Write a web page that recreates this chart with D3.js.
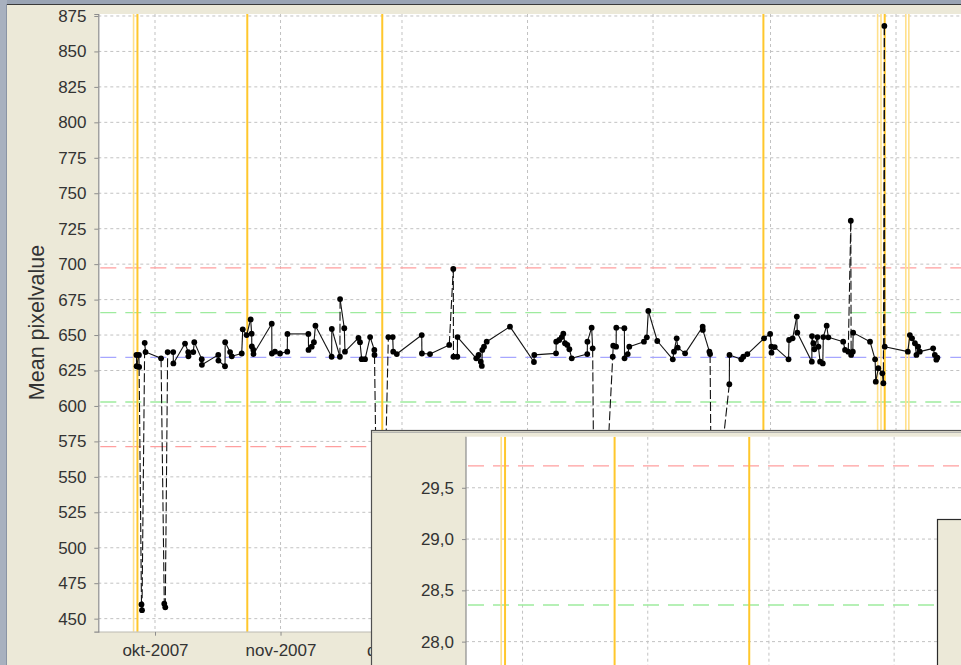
<!DOCTYPE html>
<html>
<head>
<meta charset="utf-8">
<script src="https://cdn.jsdelivr.net/npm/d3@7"></script>
<style>
  html, body { margin: 0; padding: 0; background: #ECE9D8; overflow: hidden; }
  svg { display: block; }
  text { font-family: "Liberation Sans", Arial, sans-serif; }
</style>
</head>
<body>
<svg id="chart" width="961" height="665"></svg>
<script>
// ---- data ---------------------------------------------------------------
// acquisition time of each QC image and its mean pixel value
const sampleTimes = [
  "2007-09-26 10:00","2007-09-26 11:00","2007-09-27 01:00","2007-09-27 02:00","2007-09-27 16:00",
  "2007-09-27 19:00","2007-09-28 11:00","2007-09-28 16:00","2007-10-02 12:00","2007-10-03 07:00",
  "2007-10-03 13:00","2007-10-04 03:00","2007-10-05 12:00","2007-10-05 13:00","2007-10-08 10:00",
  "2007-10-09 05:00","2007-10-09 06:00","2007-10-10 11:00","2007-10-10 17:00","2007-10-12 13:00",
  "2007-10-12 14:00","2007-10-16 15:00","2007-10-16 16:00","2007-10-18 07:00","2007-10-18 08:00",
  "2007-10-19 13:00","2007-10-19 23:00","2007-10-22 10:00","2007-10-22 16:00","2007-10-23 15:00",
  "2007-10-24 15:00","2007-10-24 21:00","2007-10-24 22:00","2007-10-25 07:00","2007-10-25 08:00",
  "2007-10-29 20:00","2007-10-29 21:00","2007-10-30 15:00","2007-10-31 21:00","2007-11-02 16:00",
  "2007-11-02 17:00","2007-11-07 21:00","2007-11-07 22:00","2007-11-08 17:00","2007-11-09 06:00",
  "2007-11-09 15:00","2007-11-13 15:00","2007-11-13 16:00","2007-11-15 16:00","2007-11-15 17:00",
  "2007-11-16 18:00","2007-11-16 22:00","2007-11-20 06:00","2007-11-20 15:00","2007-11-21 01:00",
  "2007-11-21 21:00","2007-11-23 03:00","2007-11-24 04:00","2007-11-24 05:00","2007-11-24 20:00",
  "2007-11-26 13:00","2007-11-27 15:00","2007-11-28 17:00","2007-11-28 20:00","2007-11-29 17:00",
  "2007-12-05 21:00","2007-12-05 22:00","2007-12-07 22:00","2007-12-12 16:00","2007-12-13 16:00",
  "2007-12-13 17:00","2007-12-14 16:00","2007-12-14 17:00","2007-12-19 08:00","2007-12-19 22:00",
  "2007-12-20 11:00","2007-12-20 17:00","2007-12-20 20:00","2007-12-21 06:00","2007-12-21 22:00",
  "2007-12-27 16:00","2008-01-02 14:00","2008-01-02 16:00","2008-01-08 01:00","2008-01-08 02:00",
  "2008-01-08 20:00","2008-01-09 11:00","2008-01-09 20:00","2008-01-10 06:00","2008-01-10 20:00",
  "2008-01-11 08:00","2008-01-11 22:00","2008-01-15 18:00","2008-01-15 19:00","2008-01-16 20:00",
  "2008-01-17 02:00","2008-01-17 13:00","2008-01-19 07:00","2008-01-22 01:00","2008-01-22 04:00",
  "2008-01-22 21:00","2008-01-22 22:00","2008-01-24 22:00","2008-01-24 23:00","2008-01-25 18:00",
  "2008-01-26 03:00","2008-01-29 18:00","2008-01-30 11:00","2008-01-30 20:00","2008-02-02 01:00",
  "2008-02-05 21:00","2008-02-06 04:00","2008-02-06 20:00","2008-02-07 02:00","2008-02-08 22:00",
  "2008-02-13 06:00","2008-02-13 07:00","2008-02-14 22:00","2008-02-15 02:00","2008-02-15 11:00",
  "2008-02-19 20:00","2008-02-19 21:00","2008-02-22 19:00","2008-02-23 07:00","2008-02-24 07:00",
  "2008-02-28 10:00","2008-02-29 22:00","2008-03-01 05:00","2008-03-01 06:00","2008-03-02 01:00",
  "2008-03-05 11:00","2008-03-05 14:00","2008-03-06 11:00","2008-03-07 12:00","2008-03-07 15:00",
  "2008-03-11 05:00","2008-03-11 06:00","2008-03-11 14:00","2008-03-11 20:00","2008-03-12 14:00",
  "2008-03-12 20:00","2008-03-13 06:00","2008-03-13 22:00","2008-03-14 01:00","2008-03-14 21:00",
  "2008-03-15 07:00","2008-03-18 23:00","2008-03-19 10:00","2008-03-20 05:00","2008-03-20 20:00",
  "2008-03-20 22:00","2008-03-21 08:00","2008-03-21 10:00","2008-03-25 14:00","2008-03-26 20:00",
  "2008-03-27 00:00","2008-03-27 15:00","2008-03-28 15:00","2008-03-28 21:00","2008-03-29 03:00",
  "2008-03-29 05:00","2008-04-03 22:00","2008-04-04 10:00","2008-04-04 23:00","2008-04-05 16:00",
  "2008-04-06 01:00","2008-04-06 11:00","2008-04-06 21:00","2008-04-10 04:00","2008-04-10 14:00",
  "2008-04-10 23:00","2008-04-11 05:00"
];
const meanValues = [
  636, 628, 636, 627.5, 460,
  456, 644.5, 638, 633.6, 460.5,
  458, 638, 638, 630, 644,
  638, 635, 638, 645, 633,
  629, 636, 632, 628, 645,
  638, 635, 637, 654, 650,
  661, 651, 642, 639.5, 636.6,
  658, 637, 638.3, 637, 638.3,
  650.8, 650.8, 639.5, 641.8, 645,
  656.6, 634.7, 654.3, 634.7, 675.4,
  654.8, 638.3, 648, 645, 633,
  633, 648.6, 639.5, 636, 505,
  510, 648.6, 648.6, 638.3, 636.6,
  650, 637, 636.6, 643, 696.6,
  634.7, 634.7, 648.6, 633.6, 636,
  631.2, 628.2, 639.5, 641.8, 645.3,
  655.9, 631, 636, 637.1, 645.3,
  646.5, 648.6, 651, 644.2, 643,
  640, 633.6, 636.6, 645.3, 655.2,
  640.6, 480, 480, 634.7, 642.5,
  641.8, 655.2, 654.8, 633.6, 636.6,
  641.8, 645.3, 648.4, 667, 645.8,
  632.9, 638.3, 647.7, 641.1, 637.1,
  655.9, 653.6, 638.3, 636.6, 500,
  615.3, 636, 632.9, 634.7, 636.6,
  647.7, 650.8, 641.8, 637.6, 641.5,
  632.9, 646.5, 647.7, 663, 651.7,
  631.2, 649.3, 644.2, 640, 648.6,
  641.8, 631.2, 630, 648.6, 656.6,
  648.4, 645.3, 639.5, 638.3, 730.6,
  636, 638.3, 651.7, 645.3, 632.9,
  617.1, 626.6, 623, 616, 868,
  641.8, 638.3, 650, 647.7, 644.2,
  636, 641.8, 638.3, 640.6, 636,
  632.6, 634
];

// service / calibration events
const majorEvents = ["2007-09-26 16:00","2007-10-23 19:00","2007-11-26 03:00","2008-02-28 06:00","2008-03-29 05:00"];
const minorEvents = ["2007-09-25 17:00","2008-03-27 11:00","2008-03-28 07:00","2008-04-03 10:00","2008-04-04 04:00"];

// control limits (mean, standard deviation)
const mainMean = 634.3, mainSd = 31.5;
const snrMean = 27.0, snrSd = 1.357;

// axis ticks
const mainYTicks = [450,475,500,525,550,575,600,625,650,675,700,725,750,775,800,825,850,875];
const snrYTicks = [28.0, 28.5, 29.0, 29.5];
const monthNames = ["jan","feb","mar","apr","mai","jun","jul","aug","sep","okt","nov","des"];
const timeSpan = ["2007-09-17 00:00","2008-04-27 00:00"];

// ---- setup --------------------------------------------------------------
const parse = d3.utcParse("%Y-%m-%d %H:%M");
const nb = d3.timeFormatLocale({
  dateTime: "%A %e. %B %Y kl. %X", date: "%d.%m.%Y", time: "%H:%M:%S",
  periods: ["AM","PM"],
  days: ["søndag","mandag","tirsdag","onsdag","torsdag","fredag","lørdag"],
  shortDays: ["søn","man","tir","ons","tor","fre","lør"],
  months: ["januar","februar","mars","april","mai","juni","juli","august","september","oktober","november","desember"],
  shortMonths: monthNames
});
const monthFmt = nb.utcFormat("%b-%Y");
const commaFmt = d3.formatLocale({decimal: ",", thousands: " ", grouping: [3], currency: ["", " kr"]}).format(".1f");

const series = sampleTimes.map((t, i) => ({t: parse(t), v: meanValues[i]}));
const events = majorEvents.map(t => ({t: parse(t), major: true}))
  .concat(minorEvents.map(t => ({t: parse(t), major: false})));
const span = timeSpan.map(parse);

const svg = d3.select("#chart");
const BEIGE = "#ECE9D8";
const GRID = "#C2C2C2";
const FONT = "17px";

svg.append("rect").attr("width", 961).attr("height", 665).attr("fill", BEIGE);

// window frame
svg.append("rect").attr("x", 0).attr("y", 0).attr("width", 961).attr("height", 4).attr("fill", "#9AA4B4");
svg.append("line").attr("x1", 7).attr("x2", 961).attr("y1", 4.5).attr("y2", 4.5).attr("stroke", "#3a3a3a").attr("stroke-width", 1);
svg.append("rect").attr("x", 0).attr("y", 0).attr("width", 7).attr("height", 665).attr("fill", "#A8B1BF");
svg.append("line").attr("x1", 6.5).attr("x2", 6.5).attr("y1", 4).attr("y2", 665).attr("stroke", "#8A94A4");

// draws one time-series panel: plot area, grid, control limits, events
function panel(g, opt) {
  const {x, y, left, top, right, bottom, mean, sd, clipId} = opt;
  g.append("clipPath").attr("id", clipId)
    .append("rect").attr("x", left).attr("y", top).attr("width", right - left).attr("height", bottom - top);
  g.append("rect").attr("x", left).attr("y", top).attr("width", right - left).attr("height", bottom - top).attr("fill", "#fff");
  const pg = g.append("g").attr("clip-path", `url(#${clipId})`);

  // grid
  pg.selectAll(null).data(opt.yTicks).join("line")
    .attr("x1", left).attr("x2", right).attr("y1", d => y(d)).attr("y2", d => y(d))
    .attr("stroke", GRID).attr("stroke-dasharray", "3,3");
  pg.selectAll(null).data(x.ticks(d3.utcMonth.every(1))).join("line")
    .attr("x1", d => x(d)).attr("x2", d => x(d)).attr("y1", top).attr("y2", bottom)
    .attr("stroke", GRID).attr("stroke-dasharray", "3,3");

  // control limits
  const limits = [
    {v: mean + 2 * sd, c: "#FF9E9E"}, {v: mean + sd, c: "#9EEB9E"}, {v: mean, c: "#A6A6FF"},
    {v: mean - sd, c: "#9EEB9E"}, {v: mean - 2 * sd, c: "#FF9E9E"}
  ];
  pg.selectAll(null).data(limits).join("line")
    .attr("x1", left).attr("x2", right).attr("y1", d => y(d.v)).attr("y2", d => y(d.v))
    .attr("stroke", d => d.c).attr("stroke-width", 1.3).attr("stroke-dasharray", "16,9")
    .attr("stroke-dashoffset", -2);

  // events
  pg.selectAll(null).data(events).join("line")
    .attr("x1", d => x(d.t)).attr("x2", d => x(d.t)).attr("y1", top).attr("y2", bottom)
    .attr("stroke", d => d.major ? "#FFC72C" : "#FFE08C")
    .attr("stroke-width", d => d.major ? 2 : 1.6);
  return pg;
}

// ---- main chart ---------------------------------------------------------
const M = {left: 98.3, top: 14, right: 1001.3, bottom: 631.7};
const x = d3.scaleUtc().domain(span).range([M.left, M.right]);
const y = d3.scaleLinear().domain([440.8, 876.4]).range([M.bottom, M.top]);
const W = {x: 371.5, y: 430.5};   // top-left corner of the SNR window lying over this one

const main = svg.append("g");
const mp = panel(main, {x, y, ...M, mean: mainMean, sd: mainSd, clipId: "clipMain", yTicks: mainYTicks});

// series line: long jumps rendered dashed
const pts = series.map(d => [x(d.t), y(d.v)]);
mp.selectAll(null).data(d3.pairs(pts)).join("line")
  .attr("x1", d => d[0][0]).attr("y1", d => d[0][1])
  .attr("x2", d => d[1][0]).attr("y2", d => d[1][1])
  .attr("stroke", "#111").attr("stroke-width", 1.1)
  .attr("stroke-dasharray", d => Math.abs(d[1][1] - d[0][1]) > 45 ? "9,3" : null);
mp.selectAll(null).data(series).join("circle")
  .attr("cx", d => x(d.t)).attr("cy", d => y(d.v)).attr("r", 2.9).attr("fill", "#000");

// axes
const yAxis = main.append("g").attr("transform", `translate(${M.left},0)`)
  .call(d3.axisLeft(y).tickValues(mainYTicks).tickSize(4).tickPadding(7.8));

// month ticks; the label area right of the covering window is clipped away
main.append("clipPath").attr("id", "clipXLabels")
  .append("rect").attr("x", 0).attr("y", 0).attr("width", W.x).attr("height", 665);
const monthTicks = x.ticks(d3.utcMonth.every(1)).filter(d => x(d) < W.x + 40);
const xAxis = main.append("g").attr("transform", `translate(0,${M.bottom})`)
  .attr("clip-path", "url(#clipXLabels)")
  .call(d3.axisBottom(x).tickValues(monthTicks).tickFormat(monthFmt).tickSize(4).tickPadding(8.7));
[yAxis, xAxis].forEach(a => {
  a.select(".domain").attr("stroke", "#8C8C8C").attr("stroke-width", 1.2);
  a.selectAll(".tick line").attr("stroke", "#8C8C8C");
  a.selectAll("text").attr("fill", "#333").style("font-size", FONT);
});
xAxis.select(".domain").attr("d", `M${M.left},0H${W.x}`);

main.append("text")
  .attr("transform", `translate(43.5,322.5) rotate(-90)`)
  .attr("text-anchor", "middle").attr("fill", "#333").style("font-size", "21.5px")
  .text("Mean pixelvalue");

// ---- second window: SNR chart ------------------------------------------
const snr = svg.append("g");
snr.append("rect").attr("x", W.x).attr("y", W.y).attr("width", 700).attr("height", 300)
  .attr("fill", BEIGE).attr("stroke", "#505050").attr("stroke-width", 1.2);
snr.append("line").attr("x1", W.x + 1).attr("x2", 961).attr("y1", W.y + 1.8).attr("y2", W.y + 1.8)
  .attr("stroke", "#A8A8A8");

const S = {left: 466, top: 436.7, right: 1366.7, bottom: 950};
const xs = d3.scaleUtc().domain(span).range([S.left, S.right]);
const ys = d3.scaleLinear().domain([27.0, 29.998]).range([744.2, S.top]);
panel(snr, {x: xs, y: ys, ...S, mean: snrMean, sd: snrSd, clipId: "clipSnr", yTicks: snrYTicks});

const ysAxis = snr.append("g").attr("transform", `translate(${S.left},0)`)
  .call(d3.axisLeft(ys).tickValues(snrYTicks).tickFormat(commaFmt).tickSize(4).tickPadding(8));
ysAxis.select(".domain").attr("stroke", "#8C8C8C").attr("stroke-width", 1.2)
  .attr("d", `M0,${S.top}V${S.bottom}`);
ysAxis.selectAll(".tick line").attr("stroke", "#8C8C8C");
ysAxis.selectAll("text").attr("fill", "#333").style("font-size", FONT);

// ---- third window (partly visible) --------------------------------------
svg.append("rect").attr("x", 937.5).attr("y", 519.5).attr("width", 100).attr("height", 200)
  .attr("fill", BEIGE).attr("stroke", "#2a2a2a").attr("stroke-width", 1.2);
</script>
</body>
</html>
